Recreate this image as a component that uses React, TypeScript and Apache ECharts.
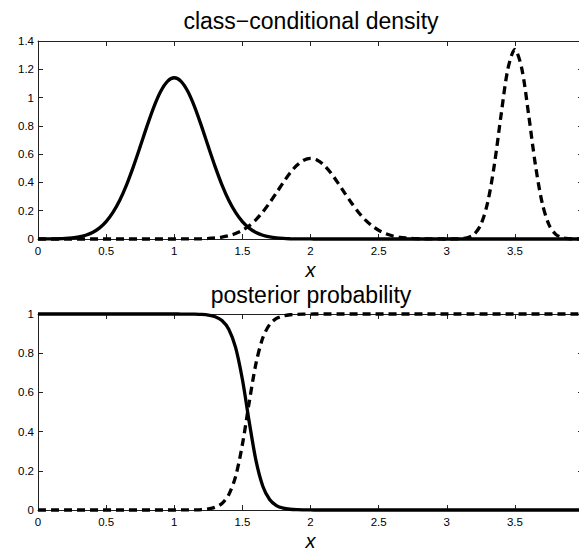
import React, { useEffect, useRef } from "react";
import * as echarts from "echarts";

const xs = [
  0, 0.05, 0.1, 0.15, 0.2, 0.25, 0.3, 0.35, 0.4, 0.45, 0.5, 0.55, 0.6, 0.65, 0.7, 0.75, 0.8, 0.85, 0.9, 0.95,
  1, 1.05, 1.1, 1.15, 1.2, 1.25, 1.3, 1.35, 1.4, 1.45, 1.5, 1.55, 1.6, 1.65, 1.7, 1.75, 1.8, 1.85, 1.9, 1.95,
  2, 2.05, 2.1, 2.15, 2.2, 2.25, 2.3, 2.35, 2.4, 2.45, 2.5, 2.55, 2.6, 2.65, 2.7, 2.75, 2.8, 2.85, 2.9, 2.95,
  3, 3.05, 3.1, 3.15, 3.2, 3.25, 3.3, 3.35, 3.4, 3.45, 3.5, 3.55, 3.6, 3.65, 3.7, 3.75, 3.8, 3.85, 3.9, 3.95, 4,
];

// class-conditional density, class 1 (solid)
const densityClass1 = [
  0.0002, 0.0004, 0.0008, 0.0018, 0.0038, 0.0076, 0.0145, 0.0265, 0.0462, 0.0771,
  0.123, 0.188, 0.274, 0.383, 0.512, 0.653, 0.798, 0.933, 1.043, 1.115,
  1.14, 1.115, 1.043, 0.933, 0.798, 0.653, 0.512, 0.383, 0.274, 0.188,
  0.123, 0.0771, 0.0462, 0.0265, 0.0145, 0.0076, 0.0038, 0.0018, 0.0008, 0.0004,
  0.0002, 0, 0, 0, 0, 0, 0, 0, 0, 0,
  0, 0, 0, 0, 0, 0, 0, 0, 0, 0,
  0, 0, 0, 0, 0, 0, 0, 0, 0, 0,
  0, 0, 0, 0, 0, 0, 0, 0, 0, 0, 0,
];

// class-conditional density, class 2 (dashed)
const densityClass2 = [
  0, 0, 0, 0, 0, 0, 0, 0, 0, 0,
  0, 0, 0, 0, 0, 0, 0, 0, 0, 0,
  0.0001, 0.0002, 0.0004, 0.0009, 0.0019, 0.0038, 0.0073, 0.0133, 0.0231, 0.0386,
  0.0615, 0.094, 0.137, 0.1915, 0.256, 0.3265, 0.399, 0.4665, 0.5215, 0.5575,
  0.57, 0.5575, 0.5215, 0.4665, 0.399, 0.3265, 0.256, 0.1915, 0.137, 0.094,
  0.0615, 0.0386, 0.0231, 0.0133, 0.0073, 0.0038, 0.0019, 0.0009, 0.0004, 0.0002,
  0.0001, 0.0003, 0.0018, 0.0085, 0.0325, 0.1013, 0.2566, 0.529, 0.886, 1.2085,
  1.34, 1.2085, 0.886, 0.529, 0.2566, 0.1013, 0.0325, 0.0085, 0.0018, 0.0003, 0,
];

// posterior probability, class 1 (solid)
const posteriorClass1 = [
  1, 1, 1, 1, 1, 1, 1, 1, 1, 1,
  1, 1, 1, 1, 1, 1, 1, 1, 1, 1,
  1, 0.9998, 0.9996, 0.999, 0.9976, 0.9942, 0.986, 0.9666, 0.9222, 0.8297,
  0.6667, 0.4509, 0.252, 0.1215, 0.0538, 0.0228, 0.0095, 0.0039, 0.0016, 0.0007,
  0.0003, 0, 0, 0, 0, 0, 0, 0, 0, 0,
  0, 0, 0, 0, 0, 0, 0, 0, 0, 0,
  0, 0, 0, 0, 0, 0, 0, 0, 0, 0,
  0, 0, 0, 0, 0, 0, 0, 0, 0, 0, 0,
];

// posterior probability, class 2 (dashed)
const posteriorClass2 = [
  0, 0, 0, 0, 0, 0, 0, 0, 0, 0,
  0, 0, 0, 0, 0, 0, 0, 0, 0, 0,
  0, 0.0002, 0.0004, 0.001, 0.0024, 0.0058, 0.014, 0.0334, 0.0778, 0.1703,
  0.3333, 0.5491, 0.748, 0.8785, 0.9462, 0.9772, 0.9905, 0.9961, 0.9984, 0.9993,
  0.9997, 1, 1, 1, 1, 1, 1, 1, 1, 1,
  1, 1, 1, 1, 1, 1, 1, 1, 1, 1,
  1, 1, 1, 1, 1, 1, 1, 1, 1, 1,
  1, 1, 1, 1, 1, 1, 1, 1, 1, 1, 1,
];

const titles = ["class\u2212conditional density", "posterior probability"];
const xAxisName = "x";

const FONT = "'Liberation Sans', Arial, Helvetica, sans-serif";
const AXIS_COLOR = "#222";

function pairs(ys: number[]) {
  return xs.map((x, i) => [x, ys[i]]);
}

function fmt(v: number) {
  return String(parseFloat(v.toFixed(2)));
}

export default function App() {
  const ref = useRef<HTMLDivElement>(null);

  useEffect(() => {
    if (!ref.current) return;
    const chart = echarts.init(ref.current, undefined, { renderer: "svg" });

    const grids = [
      { left: 38, right: 17, top: 41, height: 198 },
      { left: 38, right: 17, top: 314, height: 198 },
    ];
    const yMax = [1.4, 1];

    const lineStyle = { color: AXIS_COLOR, width: 1 };
    const xAxes: any[] = [];
    const yAxes: any[] = [];
    grids.forEach((_, i) => {
      xAxes.push({
        gridIndex: i,
        type: "value",
        min: 0,
        max: 4,
        interval: 0.5,
        position: "bottom",
        axisLine: { show: true, onZero: false, lineStyle },
        axisTick: { show: true, inside: true, length: 5, lineStyle },
        axisLabel: { margin: 6, fontSize: 11.5, color: "#000", fontFamily: FONT, formatter: fmt },
        splitLine: { show: false },
        name: xAxisName,
        nameLocation: "middle",
        nameGap: 23.5,
        nameTextStyle: { fontStyle: "italic", fontSize: 20, lineHeight: 15, color: "#000", fontFamily: FONT },
      });
      xAxes.push({
        gridIndex: i,
        type: "value",
        min: 0,
        max: 4,
        interval: 0.5,
        position: "top",
        axisLine: { show: true, onZero: false, lineStyle },
        axisTick: { show: true, inside: true, length: 5, lineStyle },
        axisLabel: { show: false },
        splitLine: { show: false },
      });
      yAxes.push({
        gridIndex: i,
        type: "value",
        min: 0,
        max: yMax[i],
        interval: 0.2,
        position: "left",
        axisLine: { show: true, onZero: false, lineStyle },
        axisTick: { show: true, inside: true, length: 5, lineStyle },
        axisLabel: { margin: 4, fontSize: 11.5, color: "#000", fontFamily: FONT, formatter: fmt },
        splitLine: { show: false },
      });
      yAxes.push({
        gridIndex: i,
        type: "value",
        min: 0,
        max: yMax[i],
        interval: 0.2,
        position: "right",
        axisLine: { show: true, onZero: false, lineStyle },
        axisTick: { show: true, inside: true, length: 5, lineStyle },
        axisLabel: { show: false },
        splitLine: { show: false },
      });
    });

    const mk = (ys: number[], gi: number, dashed: boolean, name: string) => ({
      type: "line",
      name,
      xAxisIndex: gi * 2,
      yAxisIndex: gi * 2,
      data: pairs(ys),
      showSymbol: false,
      smooth: 0.3,
      clip: false,
      lineStyle: { color: "#000", width: 3.3, type: dashed ? [8, 5] : "solid" },
      z: dashed ? 3 : 4,
    });

    const titleStyle = { fontSize: 23, lineHeight: 19, fontWeight: "normal", color: "#000", fontFamily: FONT };

    chart.setOption({
      animation: false,
      title: [
        { text: titles[0], left: 311, top: 11, textAlign: "center", padding: 0, textStyle: titleStyle },
        { text: titles[1], left: 311, top: 285, textAlign: "center", padding: 0, textStyle: titleStyle },
      ],
      grid: grids,
      xAxis: xAxes,
      yAxis: yAxes,
      series: [
        mk(densityClass1, 0, false, "density class 1"),
        mk(densityClass2, 0, true, "density class 2"),
        mk(posteriorClass1, 1, false, "posterior class 1"),
        mk(posteriorClass2, 1, true, "posterior class 2"),
      ],
    });

    return () => chart.dispose();
  }, []);

  return (
    <div
      ref={ref}
      style={{ position: "fixed", left: 0, top: 0, width: 600, height: 552, background: "#fff" }}
    />
  );
}
